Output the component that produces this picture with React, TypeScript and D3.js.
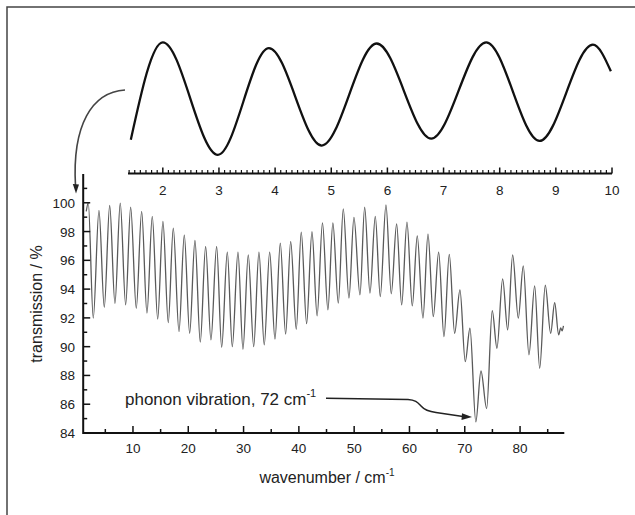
import React from "react";
import * as d3 from "d3";

const W = 635;
const H = 515;
const FONT = "'Liberation Sans', Arial, Helvetica, sans-serif";

// spectrum: fringe maxima / minima
const wavenumber = [
  1.55, 1.92, 2.82, 3.85, 4.81, 5.79, 6.74, 7.7, 8.68, 9.58, 10.6, 11.57, 12.53, 13.49,
  14.47, 15.42, 16.38, 17.29, 18.32, 19.28, 20.25, 21.21, 22.17, 23.14, 24.1, 25.13,
  26.04, 27.06, 27.96, 28.99, 29.89, 30.85, 31.83, 32.78, 33.74, 34.72, 35.68, 36.64,
  37.61, 38.52, 39.53, 40.43, 41.4, 42.37, 43.3, 44.27, 45.25, 46.15, 47.13, 48.03,
  49.06, 49.96, 51.05, 51.9, 52.86, 53.82, 54.72, 55.75, 56.71, 57.68, 58.59, 59.55,
  60.51, 61.41, 62.44, 63.35, 64.31, 65.28, 66.24, 67.2, 68.17, 69.13, 70.09, 70.94,
  72.0, 72.93, 73.96, 74.97, 75.82, 76.85, 77.76, 78.66, 79.68, 80.58, 81.61, 82.64,
  83.55, 84.56, 85.53, 86.26, 86.98, 87.35, 87.6, 87.85,
];
const transmission = [
  99.4, 100.0, 91.98, 99.47, 92.74, 99.81, 93.0, 99.98, 92.9, 99.7, 92.67, 99.4, 92.33, 99.05,
  91.91, 98.7, 91.67, 98.24, 91.05, 97.75, 90.93, 97.38, 90.31, 96.96, 90.47, 96.96,
  89.96, 96.57, 90.0, 96.57, 89.82, 96.38, 90.0, 96.57, 90.12, 96.57, 90.52, 97.2,
  90.87, 97.31, 91.21, 97.96, 91.6, 98.0, 92.15, 98.6, 92.56, 98.6, 93.02, 99.58,
  93.37, 98.98, 93.6, 99.7, 93.72, 99.05, 93.48, 99.86, 93.67, 98.54, 92.9, 98.66,
  92.83, 97.7, 91.98, 97.82, 92.09, 96.57, 90.7, 96.41, 90.93, 93.95, 88.96, 91.28,
  84.77, 88.31, 85.7, 92.51, 89.89, 94.71, 91.17, 96.38, 91.98, 95.62, 89.43, 94.23,
  88.5, 94.27, 90.93, 93.06, 90.82, 91.3, 91.1, 91.45,
];

// upper inset trace (arbitrary units)
const insetPos = [1.43, 2.0, 2.98, 3.89, 4.83, 5.81, 6.78, 7.76, 8.71, 9.66, 9.98];
const insetSignal = [0.14, 0.98, 0.01, 0.93, 0.09, 0.97, 0.15, 0.98, 0.13, 0.96, 0.73];

const xTicks = [10, 20, 30, 40, 50, 60, 70, 80];
const xMinor = [5, 15, 25, 35, 45, 55, 65, 75, 85];
const yTicks = [84, 86, 88, 90, 92, 94, 96, 98, 100];
const yMinor = [85, 87, 89, 91, 93, 95, 97, 99, 101];
const insetTicks = [2, 3, 4, 5, 6, 7, 8, 9, 10];

export default function App() {
  const x = d3.scaleLinear().domain([1, 88]).range([83.2, 564.3]);
  const y = d3.scaleLinear().domain([84, 102]).range([433, 174]);
  const ix = d3.scaleLinear().domain([1.38, 10]).range([128, 612]);
  const iy = d3.scaleLinear().domain([0, 1]).range([156, 40]);

  const spectrum = d3
    .line<number>()
    .x((d, i) => x(wavenumber[i]))
    .y((d) => y(d))
    .curve(d3.curveMonotoneX)(transmission);

  const inset = d3
    .line<number>()
    .x((d, i) => ix(insetPos[i]))
    .y((d) => iy(d))
    .curve(d3.curveMonotoneX)(insetSignal);

  // tenths on the inset axis
  const insetMinor = d3.range(14, 100).filter((k) => k % 10 !== 0).map((k) => k / 10);

  const x0 = x.range()[0];
  const y0 = y.range()[0];

  return (
    <svg
      width={W}
      height={H}
      style={{ position: "absolute", left: 0, top: 0, background: "#fff" }}
      fontFamily={FONT}
    >
      {/* cropped frame */}
      <path d={`M7,${H} L7,7 L${W},7`} fill="none" stroke="#444" strokeWidth={1.5} />

      {/* inset */}
      <path d={inset ?? ""} fill="none" stroke="#111" strokeWidth={2.3} />
      <line x1={ix(1.38)} x2={ix(10)} y1={173.5} y2={173.5} stroke="#111" strokeWidth={2} />
      {insetMinor.map((t) => (
        <line key={"im" + t} x1={ix(t)} x2={ix(t)} y1={173.5} y2={170} stroke="#111" strokeWidth={1.2} />
      ))}
      {insetTicks.map((t) => (
        <g key={"it" + t}>
          <line x1={ix(t)} x2={ix(t)} y1={173.5} y2={167.5} stroke="#111" strokeWidth={1.5} />
          <text x={ix(t)} y={195} textAnchor="middle" fontSize={13.5} fill="#222">
            {t}
          </text>
        </g>
      ))}

      {/* arrow from inset to spectrum */}
      <path d="M125,90 C92,92 72,125 75.5,186" fill="none" stroke="#444" strokeWidth={1.6} />
      <path d="M72.8,184 L79,184.5 L76,193.5 Z" fill="#222" />

      {/* spectrum */}
      <path d={spectrum ?? ""} fill="none" stroke="#5a5a5a" strokeWidth={1.3} />

      {/* axes */}
      <path d={`M${x0},${y.range()[1]} L${x0},${y0} L${x.range()[1]},${y0}`} fill="none" stroke="#111" strokeWidth={2} />
      {yMinor.map((t) => (
        <line key={"ym" + t} x1={x0} x2={x0 + 4} y1={y(t)} y2={y(t)} stroke="#111" strokeWidth={1.5} />
      ))}
      {yTicks.map((t) => (
        <g key={"yt" + t}>
          <line x1={x0} x2={x0 + 7} y1={y(t)} y2={y(t)} stroke="#111" strokeWidth={1.5} />
          <text x={75} y={y(t) + 5} textAnchor="end" fontSize={13.5} fill="#222">
            {t}
          </text>
        </g>
      ))}
      {xMinor.map((t) => (
        <line key={"xm" + t} x1={x(t)} x2={x(t)} y1={y0} y2={y0 - 4} stroke="#111" strokeWidth={1.5} />
      ))}
      {xTicks.map((t) => (
        <g key={"xt" + t}>
          <line x1={x(t)} x2={x(t)} y1={y0} y2={y0 - 7} stroke="#111" strokeWidth={1.5} />
          <text x={x(t)} y={453} textAnchor="middle" fontSize={13.5} fill="#222">
            {t}
          </text>
        </g>
      ))}

      {/* axis titles */}
      <text x={327} y={483} textAnchor="middle" fontSize={16} fill="#222">
        wavenumber / cm
        <tspan fontSize={10} dy={-7}>
          -1
        </tspan>
      </text>
      <text
        transform="translate(42,304) rotate(-90)"
        textAnchor="middle"
        fontSize={16}
        fill="#222"
      >
        transmission / %
      </text>

      {/* annotation */}
      <text x={125} y={405} fontSize={17} fill="#222">
        phonon vibration, 72 cm
        <tspan fontSize={11} dy={-8}>
          -1
        </tspan>
      </text>
      <path
        d="M326,398.3 L408,399.5 C416,400 418,403 421,406 C424,409.5 428,411.5 436,412.5 L463,416.4"
        fill="none"
        stroke="#222"
        strokeWidth={1.5}
      />
      <path d="M462,413.3 L472,417 L461.5,420 Z" fill="#222" />
    </svg>
  );
}
